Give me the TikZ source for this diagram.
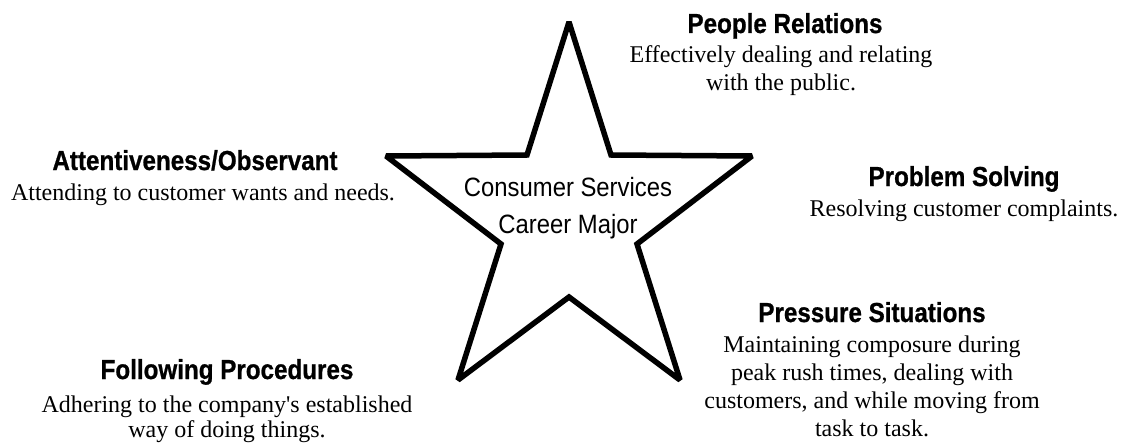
\documentclass[tikz,border=0pt]{standalone}
\usepackage{fontspec}
\setmainfont{Liberation Serif}
\newfontfamily\headfont[FakeStretch=0.9]{Liberation Sans}
\newfontfamily\headboldfont[FakeStretch=0.88, FakeBold=0.8]{Liberation Sans Bold}
\tikzset{
  ttl/.style={font=\headboldfont\fontsize{27.5}{30}\selectfont, anchor=base, inner sep=0pt},
  body/.style={font=\fontsize{24}{28}\selectfont, align=center, anchor=base, inner sep=0pt},
  ctrtext/.style={font=\headfont\fontsize{26.5}{37}\selectfont, align=center, anchor=base, inner sep=0pt},
  starline/.style={line width=5.5pt, line join=miter, miter limit=2}
}
\begin{document}
\begin{tikzpicture}[x=1pt,y=-1pt]
\useasboundingbox (0,0) rectangle (1124,444);
% star
\draw[starline] (569,22) -- (611,155) -- (752,156) -- (637,244) -- (680,380)
  -- (569,297) -- (458,380) -- (501,244) -- (386,156) -- (527,155) -- cycle;
% base anchor of a multi-line node = baseline of its last line
\node[ctrtext] (ctr) at (568,233) {Consumer Services\\Career Major};
% labels
\node[ttl] (prT) at (785,33) {People Relations};
\node[body] (prB) at (781,90) {Effectively dealing and relating\\with the public.};
\node[ttl] (aoT) at (195,170) {Attentiveness/Observant};
\node[body] (aoB) at (203,200) {Attending to customer wants and needs.};
\node[ttl] (psT) at (964,186) {Problem Solving};
\node[body] (psB) at (964,216) {Resolving customer complaints.};
\node[ttl] (puT) at (872,322) {Pressure Situations};
\node[body] (puB) at (872,436) {Maintaining composure during\\peak rush times, dealing with\\customers, and while moving from\\task to task.};
\node[ttl] (fpT) at (227,379) {Following Procedures};
\node[body, font=\fontsize{24}{25}\selectfont] (fpB) at (227,437) {Adhering to the company\textquotesingle s established\\way of doing things.};
\end{tikzpicture}
\end{document}
